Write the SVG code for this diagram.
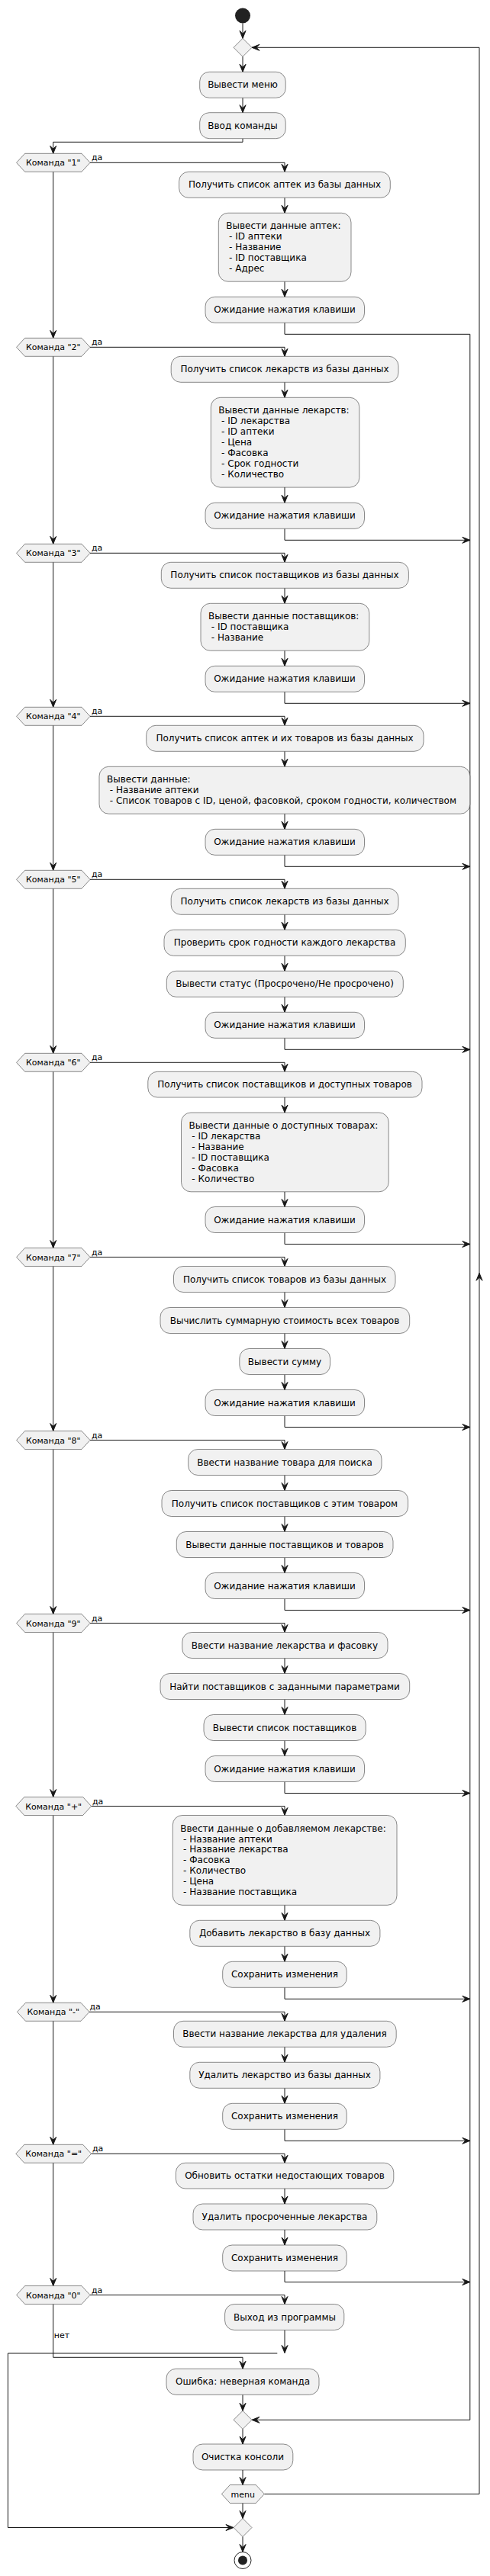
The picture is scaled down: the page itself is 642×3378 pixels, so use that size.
<svg xmlns="http://www.w3.org/2000/svg" width="642" height="3378" viewBox="0 0 642 3378">
<style>
.box{fill:#F1F1F1;stroke:#181818;stroke-width:0.5}
.ln{fill:none;stroke:#181818;stroke-width:1}
.ar{marker-end:url(#ah)}
.t{font-family:"DejaVu Sans","Liberation Sans",sans-serif;font-size:12px;fill:#000000}
.c{text-anchor:middle}
.s{font-size:11px}
</style>
<defs>
<marker id="ah" viewBox="-11 -5 12 10" refX="0" refY="0" markerWidth="12" markerHeight="10" markerUnits="userSpaceOnUse" orient="auto">
<path d="M-10,-4 L0,0 L-10,4 L-6,0 Z" fill="#181818" stroke="#181818" stroke-width="1"/>
</marker>
</defs>
<rect width="642" height="3378" fill="#FFFFFF"/>

<g id="connectors">
<path class="ln ar" d="M318,30.5 V50.3"/>
<path class="ln ar" d="M318,74.3 V94.3"/>
<path class="ln ar" d="M318,128.3 V147.7"/>
<path class="ln ar" d="M318,181.7 V186.3 H69.7 V201.3"/>
<!-- branch 1 -->
<path class="ln ar" d="M118,213.3 H373 V225.3"/>
<path class="ln ar" d="M373,259.3 V279.3"/>
<path class="ln ar" d="M373,369.2 V389.3"/>
<path class="ln ar" d="M373,423.3 V438.3 H615.8 V3173.3 H330"/>
<path class="ln ar" d="M69.7,225.3 V443.3"/>
<!-- branch 2 -->
<path class="ln ar" d="M118,455.3 H373 V467.3"/>
<path class="ln ar" d="M373,501.3 V521.3"/>
<path class="ln ar" d="M373,639.1 V659.3"/>
<path class="ln ar" d="M373,693.3 V708.3 H615.8"/>
<path class="ln ar" d="M69.7,467.3 V713.3"/>
<!-- branch 3 -->
<path class="ln ar" d="M118,725.3 H373 V737.3"/>
<path class="ln ar" d="M373,771.3 V791.3"/>
<path class="ln ar" d="M373,853.2 V873.3"/>
<path class="ln ar" d="M373,907.3 V922.3 H615.8"/>
<path class="ln ar" d="M69.7,737.3 V927.3"/>
<!-- branch 4 -->
<path class="ln ar" d="M118,939.3 H373 V951.3"/>
<path class="ln ar" d="M373,985.3 V1005.3"/>
<path class="ln ar" d="M373,1067.2 V1087.3"/>
<path class="ln ar" d="M373,1121.3 V1136.3 H615.8"/>
<path class="ln ar" d="M69.7,951.3 V1141.3"/>
<!-- branch 5 -->
<path class="ln ar" d="M118,1153.3 H373 V1165.3"/>
<path class="ln ar" d="M373,1199.3 V1219.3"/>
<path class="ln ar" d="M373,1253.3 V1273.3"/>
<path class="ln ar" d="M373,1307.3 V1327.3"/>
<path class="ln ar" d="M373,1361.3 V1376.3 H615.8"/>
<path class="ln ar" d="M69.7,1165.3 V1381.3"/>
<!-- branch 6 -->
<path class="ln ar" d="M118,1393.3 H373 V1405.3"/>
<path class="ln ar" d="M373,1439 V1459"/>
<path class="ln ar" d="M373,1562.8 V1582.5"/>
<path class="ln ar" d="M373,1616.5 V1631.5 H615.8"/>
<path class="ln ar" d="M69.7,1405.3 V1636.5"/>
<!-- branch 7 -->
<path class="ln ar" d="M118,1648.5 H373 V1660.5"/>
<path class="ln ar" d="M373,1694.5 V1714.5"/>
<path class="ln ar" d="M373,1748.5 V1768.5"/>
<path class="ln ar" d="M373,1802.5 V1822.5"/>
<path class="ln ar" d="M373,1856.5 V1871.5 H615.8"/>
<path class="ln ar" d="M69.7,1660.5 V1876.5"/>
<!-- branch 8 -->
<path class="ln ar" d="M118,1888.5 H373 V1900.5"/>
<path class="ln ar" d="M373,1934.5 V1954.5"/>
<path class="ln ar" d="M373,1988.5 V2008.5"/>
<path class="ln ar" d="M373,2042.5 V2062.5"/>
<path class="ln ar" d="M373,2096.5 V2111.5 H615.8"/>
<path class="ln ar" d="M69.7,1900.5 V2116.5"/>
<!-- branch 9 -->
<path class="ln ar" d="M118,2128.5 H373 V2140.5"/>
<path class="ln ar" d="M373,2174.5 V2194.5"/>
<path class="ln ar" d="M373,2228.5 V2248.5"/>
<path class="ln ar" d="M373,2282.5 V2302.5"/>
<path class="ln ar" d="M373,2336.5 V2351.5 H615.8"/>
<path class="ln ar" d="M69.7,2140.5 V2356.5"/>
<!-- branch + -->
<path class="ln ar" d="M119.6,2368.5 H373 V2380.5"/>
<path class="ln ar" d="M373,2498.3 V2518.3"/>
<path class="ln ar" d="M373,2552.3 V2572.3"/>
<path class="ln ar" d="M373,2606.3 V2621.3 H615.8"/>
<path class="ln ar" d="M69.7,2380.5 V2626.3"/>
<!-- branch - -->
<path class="ln ar" d="M117,2638.3 H373 V2650.3"/>
<path class="ln ar" d="M373,2684.3 V2704.3"/>
<path class="ln ar" d="M373,2738.3 V2758.3"/>
<path class="ln ar" d="M373,2792.3 V2807.3 H615.8"/>
<path class="ln ar" d="M69.7,2650.3 V2812.3"/>
<!-- branch = -->
<path class="ln ar" d="M119.6,2824.3 H373 V2836.3"/>
<path class="ln ar" d="M373,2870 V2890"/>
<path class="ln ar" d="M373,2924 V2944"/>
<path class="ln ar" d="M373,2978 V2992.5 H615.8"/>
<path class="ln ar" d="M69.7,2836.3 V2997.5"/>
<!-- branch 0 -->
<path class="ln ar" d="M118,3009.5 H373 V3021.5"/>
<path class="ln ar" d="M373,3055.5 V3085.5"/>
<path class="ln ar" d="M363.3,3086 H10.4 V3314.5 H306"/>
<!-- else -->
<path class="ln ar" d="M69.7,3021.5 V3091.3 H318 V3106.3"/>
<path class="ln ar" d="M318,3140.3 V3161.3"/>
<path class="ln ar" d="M318,3185.3 V3205"/>
<path class="ln ar" d="M318,3239 V3258.5"/>
<path class="ln ar" d="M318,3282.5 V3302.5"/>
<path class="ln ar" d="M318,3326.5 V3346.5"/>
<!-- loop back -->
<path class="ln ar" d="M346.3,3270.5 H628 V1669.3"/>
<path class="ln ar" d="M628,1669.3 V62.3 H330"/>
<text class="t s" x="120" y="210.3">да</text>
<text class="t s" x="120" y="452.3">да</text>
<text class="t s" x="120" y="722.3">да</text>
<text class="t s" x="120" y="936.3">да</text>
<text class="t s" x="120" y="1150.3">да</text>
<text class="t s" x="120" y="1390.3">да</text>
<text class="t s" x="120" y="1645.5">да</text>
<text class="t s" x="120" y="1885.5">да</text>
<text class="t s" x="120" y="2125.5">да</text>
<text class="t s" x="121" y="2365.5">да</text>
<text class="t s" x="117.5" y="2635.3">да</text>
<text class="t s" x="121" y="2821.3">да</text>
<text class="t s" x="120" y="3006.5">да</text>
<text class="t s" x="70.8" y="3065.5">нет</text>
</g>

<g id="start"><circle cx="318" cy="20.5" r="10" fill="#222222"/></g>
<g id="merge_top"><polygon class="box" points="318,50.3 330,62.3 318,74.3 306,62.3"/></g>
<g id="menu"><rect class="box" x="261.7" y="94.3" width="112.5" height="34" rx="12.5"/><text class="t c" x="318" y="115.3">Вывести меню</text></g>
<g id="input"><rect class="box" x="261.7" y="147.7" width="112.5" height="34" rx="12.5"/><text class="t c" x="318" y="168.7">Ввод команды</text></g>

<g id="cmd1"><polygon class="box" points="21.6,213.3 32.6,201.3 107,201.3 118,213.3 107,225.3 32.6,225.3"/><text class="t s c" x="69.8" y="217.3">Команда "1"</text></g>
<g id="a1"><rect class="box" x="234.6" y="225.3" width="276.7" height="34" rx="12.5"/><text class="t c" x="373" y="246.3">Получить список аптек из базы данных</text></g>
<g id="a2"><rect class="box" x="286.3" y="279.3" width="173.7" height="89.9" rx="12.5"/>
<text class="t" x="296.3" y="300.3">Вывести данные аптек:</text>
<text class="t" x="296.3" y="314.3">&#160;- ID аптеки</text>
<text class="t" x="296.3" y="328.2">&#160;- Название</text>
<text class="t" x="296.3" y="342.2">&#160;- ID поставщика</text>
<text class="t" x="296.3" y="356.2">&#160;- Адрес</text></g>
<g id="a3"><rect class="box" x="269" y="389.3" width="208.5" height="34" rx="12.5"/><text class="t c" x="373" y="410.3">Ожидание нажатия клавиши</text></g>

<g id="cmd2"><polygon class="box" points="21.6,455.3 32.6,443.3 107,443.3 118,455.3 107,467.3 32.6,467.3"/><text class="t s c" x="69.8" y="459.3">Команда "2"</text></g>
<g id="b1"><rect class="box" x="224.2" y="467.3" width="297.8" height="34" rx="12.5"/><text class="t c" x="373" y="488.3">Получить список лекарств из базы данных</text></g>
<g id="b2"><rect class="box" x="276.3" y="521.3" width="194.5" height="117.8" rx="12.5"/>
<text class="t" x="286.3" y="542.3">Вывести данные лекарств:</text>
<text class="t" x="286.3" y="556.3">&#160;- ID лекарства</text>
<text class="t" x="286.3" y="570.2">&#160;- ID аптеки</text>
<text class="t" x="286.3" y="584.2">&#160;- Цена</text>
<text class="t" x="286.3" y="598.2">&#160;- Фасовка</text>
<text class="t" x="286.3" y="612.2">&#160;- Срок годности</text>
<text class="t" x="286.3" y="626.1">&#160;- Количество</text></g>
<g id="b3"><rect class="box" x="269" y="659.3" width="208.5" height="34" rx="12.5"/><text class="t c" x="373" y="680.3">Ожидание нажатия клавиши</text></g>

<g id="cmd3"><polygon class="box" points="21.6,725.3 32.6,713.3 107,713.3 118,725.3 107,737.3 32.6,737.3"/><text class="t s c" x="69.8" y="729.3">Команда "3"</text></g>
<g id="c1"><rect class="box" x="211.3" y="737.3" width="324.1" height="34" rx="12.5"/><text class="t c" x="373" y="758.3">Получить список поставщиков из базы данных</text></g>
<g id="c2"><rect class="box" x="263" y="791.3" width="220.8" height="61.9" rx="12.5"/>
<text class="t" x="273" y="812.3">Вывести данные поставщиков:</text>
<text class="t" x="273" y="826.3">&#160;- ID поставщика</text>
<text class="t" x="273" y="840.2">&#160;- Название</text></g>
<g id="c3"><rect class="box" x="269" y="873.3" width="208.5" height="34" rx="12.5"/><text class="t c" x="373" y="894.3">Ожидание нажатия клавиши</text></g>

<g id="cmd4"><polygon class="box" points="21.6,939.3 32.6,927.3 107,927.3 118,939.3 107,951.3 32.6,951.3"/><text class="t s c" x="69.8" y="943.3">Команда "4"</text></g>
<g id="d1"><rect class="box" x="191.7" y="951.3" width="363.3" height="34" rx="12.5"/><text class="t c" x="373" y="972.3">Получить список аптек и их товаров из базы данных</text></g>
<g id="d2"><rect class="box" x="130" y="1005.3" width="485.8" height="61.9" rx="12.5"/>
<text class="t" x="140" y="1026.3">Вывести данные:</text>
<text class="t" x="140" y="1040.3">&#160;- Название аптеки</text>
<text class="t" x="140" y="1054.2">&#160;- Список товаров с ID, ценой, фасовкой, сроком годности, количеством</text></g>
<g id="d3"><rect class="box" x="269" y="1087.3" width="208.5" height="34" rx="12.5"/><text class="t c" x="373" y="1108.3">Ожидание нажатия клавиши</text></g>

<g id="cmd5"><polygon class="box" points="21.6,1153.3 32.6,1141.3 107,1141.3 118,1153.3 107,1165.3 32.6,1165.3"/><text class="t s c" x="69.8" y="1157.3">Команда "5"</text></g>
<g id="e1"><rect class="box" x="224.2" y="1165.3" width="297.8" height="34" rx="12.5"/><text class="t c" x="373" y="1186.3">Получить список лекарств из базы данных</text></g>
<g id="e2"><rect class="box" x="215" y="1219.3" width="316.3" height="34" rx="12.5"/><text class="t c" x="373" y="1240.3">Проверить срок годности каждого лекарства</text></g>
<g id="e3"><rect class="box" x="218.3" y="1273.3" width="310" height="34" rx="12.5"/><text class="t c" x="373" y="1294.3">Вывести статус (Просрочено/Не просрочено)</text></g>
<g id="e4"><rect class="box" x="269" y="1327.3" width="208.5" height="34" rx="12.5"/><text class="t c" x="373" y="1348.3">Ожидание нажатия клавиши</text></g>

<g id="cmd6"><polygon class="box" points="21.6,1393.3 32.6,1381.3 107,1381.3 118,1393.3 107,1405.3 32.6,1405.3"/><text class="t s c" x="69.8" y="1397.3">Команда "6"</text></g>
<g id="f1"><rect class="box" x="193.8" y="1405.3" width="359.2" height="33.7" rx="12.5"/><text class="t c" x="373" y="1426.2">Получить список поставщиков и доступных товаров</text></g>
<g id="f2"><rect class="box" x="237.5" y="1459" width="271.7" height="103.8" rx="12.5"/>
<text class="t" x="247.5" y="1480">Вывести данные о доступных товарах:</text>
<text class="t" x="247.5" y="1494">&#160;- ID лекарства</text>
<text class="t" x="247.5" y="1507.9">&#160;- Название</text>
<text class="t" x="247.5" y="1521.9">&#160;- ID поставщика</text>
<text class="t" x="247.5" y="1535.9">&#160;- Фасовка</text>
<text class="t" x="247.5" y="1549.8">&#160;- Количество</text></g>
<g id="f3"><rect class="box" x="269" y="1582.5" width="208.5" height="34" rx="12.5"/><text class="t c" x="373" y="1603.5">Ожидание нажатия клавиши</text></g>

<g id="cmd7"><polygon class="box" points="21.6,1648.5 32.6,1636.5 107,1636.5 118,1648.5 107,1660.5 32.6,1660.5"/><text class="t s c" x="69.8" y="1652.5">Команда "7"</text></g>
<g id="g1"><rect class="box" x="227.5" y="1660.5" width="290.5" height="34" rx="12.5"/><text class="t c" x="373" y="1681.5">Получить список товаров из базы данных</text></g>
<g id="g2"><rect class="box" x="210" y="1714.5" width="326.7" height="34" rx="12.5"/><text class="t c" x="373" y="1735.5">Вычислить суммарную стоимость всех товаров</text></g>
<g id="g3"><rect class="box" x="313.8" y="1768.5" width="118.7" height="34" rx="12.5"/><text class="t c" x="373" y="1789.5">Вывести сумму</text></g>
<g id="g4"><rect class="box" x="269" y="1822.5" width="208.5" height="34" rx="12.5"/><text class="t c" x="373" y="1843.5">Ожидание нажатия клавиши</text></g>

<g id="cmd8"><polygon class="box" points="21.6,1888.5 32.6,1876.5 107,1876.5 118,1888.5 107,1900.5 32.6,1900.5"/><text class="t s c" x="69.8" y="1892.5">Команда "8"</text></g>
<g id="h1"><rect class="box" x="246.7" y="1900.5" width="253.3" height="34" rx="12.5"/><text class="t c" x="373" y="1921.5">Ввести название товара для поиска</text></g>
<g id="h2"><rect class="box" x="212" y="1954.5" width="322.6" height="34" rx="12.5"/><text class="t c" x="373" y="1975.5">Получить список поставщиков с этим товаром</text></g>
<g id="h3"><rect class="box" x="231.3" y="2008.5" width="283.7" height="34" rx="12.5"/><text class="t c" x="373" y="2029.5">Вывести данные поставщиков и товаров</text></g>
<g id="h4"><rect class="box" x="269" y="2062.5" width="208.5" height="34" rx="12.5"/><text class="t c" x="373" y="2083.5">Ожидание нажатия клавиши</text></g>

<g id="cmd9"><polygon class="box" points="21.6,2128.5 32.6,2116.5 107,2116.5 118,2128.5 107,2140.5 32.6,2140.5"/><text class="t s c" x="69.8" y="2132.5">Команда "9"</text></g>
<g id="i1"><rect class="box" x="238.8" y="2140.5" width="269.2" height="34" rx="12.5"/><text class="t c" x="373" y="2161.5">Ввести название лекарства и фасовку</text></g>
<g id="i2"><rect class="box" x="210" y="2194.5" width="326.7" height="34" rx="12.5"/><text class="t c" x="373" y="2215.5">Найти поставщиков с заданными параметрами</text></g>
<g id="i3"><rect class="box" x="267" y="2248.5" width="212.2" height="34" rx="12.5"/><text class="t c" x="373" y="2269.5">Вывести список поставщиков</text></g>
<g id="i4"><rect class="box" x="269" y="2302.5" width="208.5" height="34" rx="12.5"/><text class="t c" x="373" y="2323.5">Ожидание нажатия клавиши</text></g>

<g id="cmdplus"><polygon class="box" points="20.8,2368.5 31.8,2356.5 108.6,2356.5 119.6,2368.5 108.6,2380.5 31.8,2380.5"/><text class="t s c" x="70.2" y="2372.5">Команда "+"</text></g>
<g id="j1"><rect class="box" x="226.3" y="2380.5" width="293.7" height="117.8" rx="12.5"/>
<text class="t" x="236.3" y="2401.5">Ввести данные о добавляемом лекарстве:</text>
<text class="t" x="236.3" y="2415.5">&#160;- Название аптеки</text>
<text class="t" x="236.3" y="2429.4">&#160;- Название лекарства</text>
<text class="t" x="236.3" y="2443.4">&#160;- Фасовка</text>
<text class="t" x="236.3" y="2457.4">&#160;- Количество</text>
<text class="t" x="236.3" y="2471.4">&#160;- Цена</text>
<text class="t" x="236.3" y="2485.3">&#160;- Название поставщика</text></g>
<g id="j2"><rect class="box" x="248.8" y="2518.3" width="249.1" height="34" rx="12.5"/><text class="t c" x="373" y="2539.3">Добавить лекарство в базу данных</text></g>
<g id="j3"><rect class="box" x="291.7" y="2572.3" width="162.5" height="34" rx="12.5"/><text class="t c" x="373" y="2593.3">Сохранить изменения</text></g>

<g id="cmdminus"><polygon class="box" points="22.5,2638.3 33.5,2626.3 106,2626.3 117,2638.3 106,2650.3 33.5,2650.3"/><text class="t s c" x="69.8" y="2642.3">Команда "-"</text></g>
<g id="k1"><rect class="box" x="227.5" y="2650.3" width="291.7" height="34" rx="12.5"/><text class="t c" x="373" y="2671.3">Ввести название лекарства для удаления</text></g>
<g id="k2"><rect class="box" x="248.8" y="2704.3" width="249.1" height="34" rx="12.5"/><text class="t c" x="373" y="2725.3">Удалить лекарство из базы данных</text></g>
<g id="k3"><rect class="box" x="291.7" y="2758.3" width="162.5" height="34" rx="12.5"/><text class="t c" x="373" y="2779.3">Сохранить изменения</text></g>

<g id="cmdeq"><polygon class="box" points="20.8,2824.3 31.8,2812.3 108.6,2812.3 119.6,2824.3 108.6,2836.3 31.8,2836.3"/><text class="t s c" x="70.2" y="2828.3">Команда "="</text></g>
<g id="l1"><rect class="box" x="230.4" y="2836.3" width="285.4" height="33.7" rx="12.5"/><text class="t c" x="373" y="2857.2">Обновить остатки недостающих товаров</text></g>
<g id="l2"><rect class="box" x="253" y="2890" width="240.8" height="34" rx="12.5"/><text class="t c" x="373" y="2911">Удалить просроченные лекарства</text></g>
<g id="l3"><rect class="box" x="291.7" y="2944" width="162.5" height="34" rx="12.5"/><text class="t c" x="373" y="2965">Сохранить изменения</text></g>

<g id="cmd0"><polygon class="box" points="21.6,3009.5 32.6,2997.5 107,2997.5 118,3009.5 107,3021.5 32.6,3021.5"/><text class="t s c" x="69.8" y="3013.5">Команда "0"</text></g>
<g id="m1"><rect class="box" x="294.6" y="3021.5" width="156.2" height="34" rx="12.5"/><text class="t c" x="373" y="3042.5">Выход из программы</text></g>

<g id="err"><rect class="box" x="218" y="3106.3" width="200" height="34" rx="12.5"/><text class="t c" x="318" y="3127.3">Ошибка: неверная команда</text></g>
<g id="merge_if"><polygon class="box" points="318,3161.3 330,3173.3 318,3185.3 306,3173.3"/></g>
<g id="clear"><rect class="box" x="253" y="3205" width="130.8" height="34" rx="12.5"/><text class="t c" x="318" y="3226">Очистка консоли</text></g>
<g id="repeat_while"><polygon class="box" points="290.4,3270.5 301.4,3258.5 335.3,3258.5 346.3,3270.5 335.3,3282.5 301.4,3282.5"/><text class="t s c" x="318.3" y="3274.5">menu</text></g>
<g id="merge_end"><polygon class="box" points="318,3302.5 330,3314.5 318,3326.5 306,3314.5"/></g>
<g id="stop"><circle cx="318" cy="3357.5" r="11" fill="none" stroke="#222222" stroke-width="1"/><circle cx="318" cy="3357.5" r="6" fill="#222222"/></g>
</svg>
